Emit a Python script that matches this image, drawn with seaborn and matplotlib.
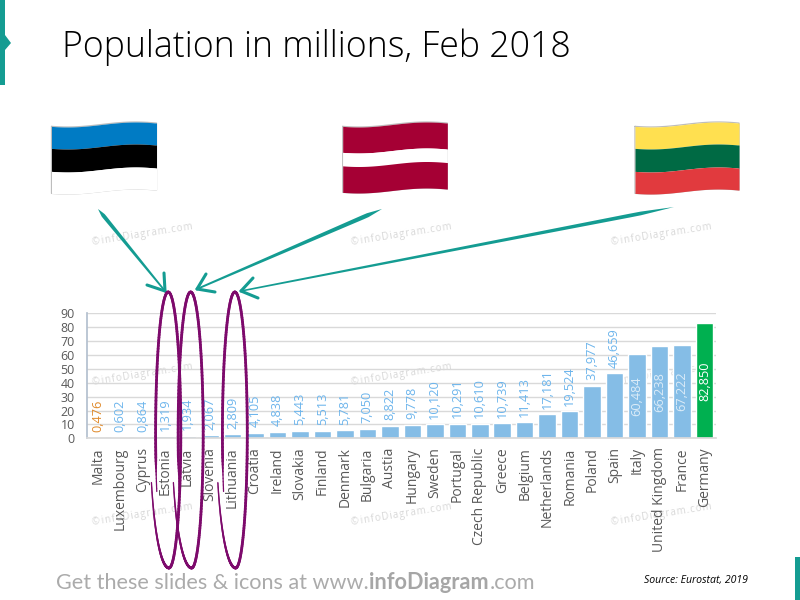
import numpy as np
import matplotlib
matplotlib.use("Agg")
import matplotlib.pyplot as plt
from matplotlib.collections import LineCollection
from matplotlib.patches import Polygon
import seaborn as sns

countries = ["Malta", "Luxembourg", "Cyprus", "Estonia", "Latvia", "Slovenia", "Lithuania",
             "Croatia", "Ireland", "Slovakia", "Finland", "Denmark", "Bulgaria", "Austia",
             "Hungary", "Sweden", "Portugal", "Czech Republic", "Greece", "Belgium",
             "Netherlands", "Romania", "Poland", "Spain", "Italy", "United Kingdom",
             "France", "Germany"]
population = [0.476, 0.602, 0.864, 1.319, 1.934, 2.067, 2.809, 4.105, 4.838, 5.443, 5.513,
              5.781, 7.050, 8.822, 9.778, 10.120, 10.291, 10.610, 10.739, 11.413, 17.181,
              19.524, 37.977, 46.659, 60.484, 66.238, 67.222, 82.850]
inside_labels = ["Italy", "United Kingdom", "France", "Germany"]

TEAL = "#149C92"
PURPLE = "#7D0A6C"
BAR_BLUE = "#85BDE6"
GREEN = "#00B050"
LABEL_BLUE = "#6DB5EC"
ORANGE = "#E08B2D"
TEXT_GREY = "#595959"

sns.set_theme(style="white")
plt.rcParams["font.family"] = ["Open Sans", "DejaVu Sans"]

fig = plt.figure(figsize=(8, 6), dpi=100, facecolor="white")
W, H = 800, 600

# Watermarks stay behind the chart, on their own layer
backdrop = fig.add_axes([0, 0, 1, 1], facecolor="none", zorder=0)
backdrop.set_xlim(0, W)
backdrop.set_ylim(H, 0)
backdrop.axis("off")
for wx in (93, 352, 612):
    for wy in (245, 385, 525):
        backdrop.text(wx, wy, "©\u2009i\u200an\u200af\u200ao\u200aD\u200ai\u200aa\u200ag\u200ar\u200aa\u200am\u200a.\u200ac\u200ao\u200am",
                      rotation=9, rotation_mode="anchor", fontsize=6.9, color="#D8D8D8",
                      ha="left", va="baseline")

ax = fig.add_axes([86.5 / W, 1 - 438.3 / H, 629.2 / W, 125 / H], facecolor="none", zorder=1)

bar_colors = [GREEN if c == "Germany" else BAR_BLUE for c in countries]
sns.barplot(x=countries, y=population, hue=countries, palette=bar_colors, dodge=False,
            legend=False, width=0.78, saturation=1, ax=ax, zorder=2)

ax.set_xlim(-0.5, len(countries) - 0.5)
ax.set_ylim(0, 90)
ax.set_yticks(range(0, 91, 10))
ax.set_axisbelow(True)
ax.yaxis.grid(True, color="#D9D9D9", lw=1.0)
ax.xaxis.grid(False)
sns.despine(ax=ax, top=True, right=True)
ax.spines["left"].set_color("#B4C0CF")
ax.spines["bottom"].set_color("#D9D9D9")
ax.tick_params(axis="y", length=0, pad=8.5, labelsize=8.9, labelcolor=TEXT_GREY)
ax.tick_params(axis="x", length=0, pad=6.5, labelsize=10.0, labelcolor=TEXT_GREY)
plt.setp(ax.get_xticklabels(), rotation=90, ha="center", va="top")

# Value labels sit above short bars and inside the largest ones
for i, (name, value) in enumerate(zip(countries, population)):
    label = f"{value:.3f}".replace(".", ",")
    if name in inside_labels:
        color = "white" if name == "Germany" else "#DCECF8"
        ax.text(i, value / 2, label, rotation=90, ha="center", va="center",
                fontsize=9.2, color=color, zorder=4)
    else:
        color = ORANGE if name == "Malta" else LABEL_BLUE
        ax.annotate(label, (i, value), xytext=(0, 4.0), textcoords="offset points",
                    rotation=90, ha="center", va="bottom", fontsize=9.2, color=color, zorder=4)

# Slide furniture is laid out on a pixel-based overlay
deco = fig.add_axes([0, 0, 1, 1], facecolor="none", zorder=2)
deco.set_xlim(0, W)
deco.set_ylim(H, 0)
deco.axis("off")

deco.add_patch(Polygon([(0, 0), (5, 0), (5, 35), (11, 43), (5, 50), (5, 85), (0, 85)],
                       closed=True, fc=TEAL, ec="none"))
deco.add_patch(Polygon([(795, 557), (800, 557), (800, 600), (795, 600)],
                       closed=True, fc=TEAL, ec="none"))

deco.text(62, 57, "Population in millions, Feb 2018", fontsize=25.7, color="black",
          ha="left", va="baseline", fontweight="light")


def wave(t):
    return 0.5 + 2.5 * np.cos(2 * np.pi * (t - 0.15) / 1.3)


def draw_flag(x0, x1, stops, colors):
    t = np.linspace(0, 1, 60)
    x = x0 + (x1 - x0) * t
    for (top, bottom), color in zip(zip(stops[:-1], stops[1:]), colors):
        deco.fill_between(x, top + wave(t), bottom + wave(t), color=color, lw=0, zorder=3)
    deco.plot(np.r_[x, x[::-1], x[0]],
              np.r_[stops[0] + wave(t), stops[-1] + wave(t[::-1]), stops[0] + wave(t[0])],
              color="#BDBDBD", lw=0.9, zorder=2.5)


draw_flag(51.5, 156.5, [124, 146, 169, 191], ["#007BC4", "#000000", "#FFFFFF"])
draw_flag(342.7, 447.3, [124, 150, 163.5, 190], ["#A50034", "#FFFFFF", "#A50034"])
draw_flag(635, 739, [124, 146, 169, 191], ["#FFE050", "#006A44", "#E13A3E"])


def draw_arrow(start, tip, barb_a, barb_b, max_width):
    start, tip = np.array(start, float), np.array(tip, float)
    d = tip - start
    n = np.array([-d[1], d[0]]) / np.hypot(*d)
    t = np.linspace(0, 1, 40)
    half = 0.5 * max_width * np.minimum(t / 0.08, 1) * (1 - 0.6 * t)
    spine = start + np.outer(t, d)
    deco.add_patch(Polygon(np.r_[spine + np.outer(half, n), (spine - np.outer(half, n))[::-1]],
                           closed=True, fc=TEAL, ec="none", zorder=6))
    for barb in (barb_a, barb_b):
        deco.plot([barb[0], tip[0]], [barb[1], tip[1]], color=TEAL, lw=2.2,
                  solid_capstyle="round", zorder=6)


draw_arrow((98, 209), (165, 291), (164, 273), (147, 285), 4.2)
draw_arrow((382, 209), (197, 289), (206, 274), (215, 292), 4.6)
draw_arrow((674, 207), (241, 291), (253, 278), (258, 298), 4.0)


def draw_loop(apex_x, bottom_x, half_width, lower_left_width, end_y=482.5, stub_y=491.5):
    cy, b = 430.0, 138.0
    # Upper stroke: from the left stub over the top and down the right side to the bottom
    stub = -np.arccos((cy - stub_y) / b)
    th = np.linspace(stub, np.pi, 200)
    cx = apex_x + (bottom_x - apex_x) * (th - stub) / (np.pi - stub)
    x = cx + half_width * np.sin(th)
    y = cy - b * np.cos(th)
    lw = np.clip(2.0 * (th - stub) / 0.25, 0.9, 2.0)
    pts = np.column_stack([x, y])
    deco.add_collection(LineCollection(np.stack([pts[:-1], pts[1:]], axis=1), colors=PURPLE,
                                       linewidths=lw[:-1], zorder=7, capstyle="round"))
    # Lower-left stroke tapers away from the bottom of the loop
    end = np.arccos((cy - end_y) / b)
    th2 = np.linspace(np.pi, end, 120)
    x2 = bottom_x - lower_left_width * np.sin(th2)
    y2 = cy - b * np.cos(th2)
    lw2 = np.linspace(2.0, 0.9, th2.size)
    pts2 = np.column_stack([x2, y2])
    deco.add_collection(LineCollection(np.stack([pts2[:-1], pts2[1:]], axis=1), colors=PURPLE,
                                       linewidths=lw2[:-1], zorder=7, capstyle="round"))


draw_loop(167.7, 169.0, 12.2, 19.0)
draw_loop(190.0, 191.7, 12.0, 19.8)
draw_loop(234.3, 235.7, 12.0, 19.3)

# Footer assembled piece by piece so the bold run follows the light one
renderer = fig.canvas.get_renderer()
cursor = 56.0
footer_parts = [("Get these slides & icons at www.", "normal", 15.6, "#ABABAB"),
                ("infoDiagram", "bold", 15.6, "#A6A6A6"),
                (".com", "normal", 15.6, "#ABABAB")]
for part, weight, size, shade in footer_parts:
    txt = deco.text(cursor, 589, part, fontsize=size, color=shade, fontweight=weight,
                    family=["Lato", "DejaVu Sans"], ha="left", va="baseline")
    cursor = deco.transData.inverted().transform(txt.get_window_extent(renderer))[1, 0] + 0.5

deco.text(644, 583, "Source: Eurostat, 2019", fontsize=7.6, style="italic", color="black",
          ha="left", va="baseline")

fig.savefig("out.png", dpi=100, facecolor="white")
